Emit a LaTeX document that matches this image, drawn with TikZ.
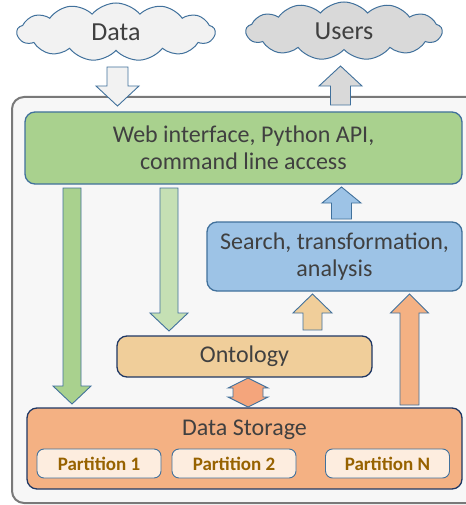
\documentclass[tikz,border=0pt]{standalone}
\usepackage{fontspec}
\setmainfont{Carlito}
\usetikzlibrary{shapes.symbols}
\definecolor{txt}{HTML}{404040}
\definecolor{edge}{HTML}{41719C}
\definecolor{darkedge}{HTML}{203864}
\definecolor{green1}{HTML}{A9D18E}
\definecolor{green2}{HTML}{C5E0B4}
\definecolor{blue1}{HTML}{9DC3E6}
\definecolor{tan1}{HTML}{F0CE9A}
\definecolor{orange1}{HTML}{F4B183}
\definecolor{orange2}{HTML}{F4A57C}
\definecolor{part}{HTML}{FDEDDF}
\definecolor{parttxt}{HTML}{976200}
\definecolor{cloud1}{HTML}{F2F2F2}
\definecolor{cloud2}{HTML}{D9D9D9}
\definecolor{outer}{HTML}{F7F7F7}
\tikzset{
  box/.style={draw=edge, line width=1.3pt, rounded corners=10pt, text=txt, font=\fontsize{24}{27}\selectfont, align=center, inner sep=0pt},
  partbox/.style={draw=edge, line width=0.9pt, fill=part, rounded corners=7pt, text=parttxt, font=\fontsize{19}{20}\selectfont\bfseries, minimum width=124pt, minimum height=29pt, inner sep=0pt},
  cloudnode/.style={cloud, cloud puffs=13, cloud puff arc=100, cloud ignores aspect, draw=edge, line width=1pt, text=txt, font=\fontsize{26}{28}\selectfont, minimum width=198pt, minimum height=58pt, inner sep=0pt},
  arrowline/.style={draw=edge, line width=0.9pt, line join=miter},
}
% up/down block arrow: fill, center x, tail y, tip y, shaft half width, head half width, head base y
\newcommand{\blockarrow}[7]{%
  \path[arrowline, fill=#1] (#2-#5,#3) -- (#2-#5,#7) -- (#2-#6,#7) -- (#2,#4) -- (#2+#6,#7) -- (#2+#5,#7) -- (#2+#5,#3) -- cycle;}
\begin{document}
\begin{tikzpicture}[x=1pt,y=-1pt]
\useasboundingbox (0,0) rectangle (465,505);
% outer container
\draw[draw=gray!95!black, fill=outer, line width=2pt, rounded corners=12pt] (12,97) rectangle (480,503);
% clouds
\node[cloudnode, fill=cloud1] (data) at (116,32) {Data};
\node[cloudnode, fill=cloud2, minimum width=196pt] (users) at (344,31) {Users};
% boxes
\node[box, fill=green1, minimum width=437pt, minimum height=72pt] (web) at (243.5,148) {Web interface, Python API,\\command line access};
\node[box, fill=blue1, minimum width=255pt, minimum height=69pt] (search) at (334.5,256.5) {Search, transformation,\\analysis};
\node[box, fill=tan1, draw=darkedge, minimum width=255pt, minimum height=41pt] (onto) at (244.5,356.5) {Ontology};
\node[box, fill=orange1, draw=darkedge, minimum width=435pt, minimum height=81pt] (store) at (244.5,448.5) {};
\node[text=txt, font=\fontsize{24}{27}\selectfont] (storelbl) at (244.5,430) {Data Storage};
\node[partbox] (p1) at (99,463.5) {Partition 1};
\node[partbox] (p2) at (234,463.5) {Partition 2};
\node[partbox] (pn) at (387.5,463.5) {Partition N};
% block arrows
\blockarrow{cloud1}{117.5}{67}{106}{10.5}{21.5}{86}
\blockarrow{cloud2}{340.5}{105}{66}{10}{21.5}{86}
\blockarrow{green1}{72}{188}{404}{9}{19}{386}
\blockarrow{green2}{169}{188}{331}{9}{19}{313}
\blockarrow{blue1}{341.5}{219}{187}{10}{19.5}{203}
\blockarrow{tan1}{312.5}{330}{294}{9.5}{19.5}{313}
\blockarrow{orange1}{409.5}{405}{294}{9.5}{19}{313}
% double arrow
\path[arrowline, fill=orange2] (248,378) -- (268,388) -- (263,388) -- (263,397) -- (268,397) -- (248,407) -- (228,397) -- (233,397) -- (233,388) -- (228,388) -- cycle;
\end{tikzpicture}
\end{document}
